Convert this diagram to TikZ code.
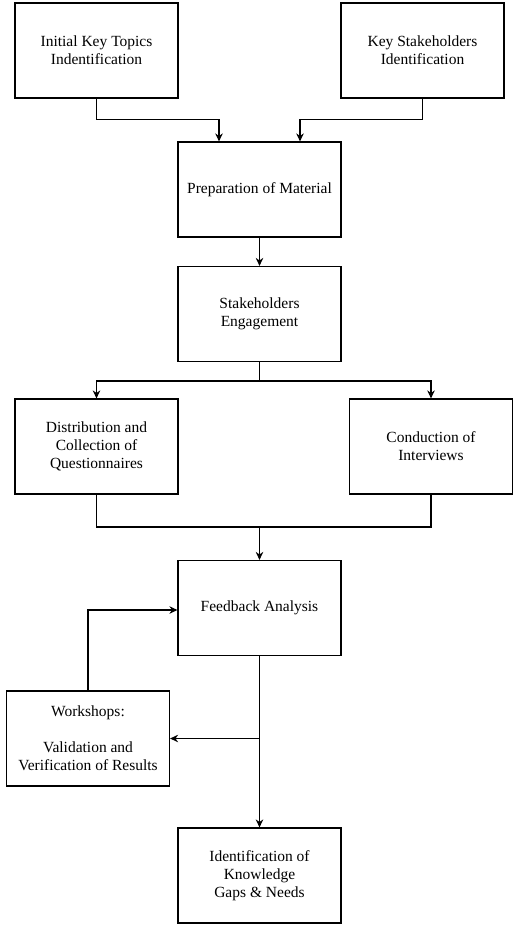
\documentclass[tikz,border=0pt]{standalone}
\usepackage{fontspec}
\setmainfont{Liberation Serif}
\usepackage{tikz}
\usetikzlibrary{arrows.meta}

\begin{document}
\begin{tikzpicture}[x=1pt,y=1pt,
        box/.style={draw,line width=1.2pt,minimum width=163pt,minimum height=95pt,align=center,
                font=\fontsize{15.5}{18}\selectfont},
        arr/.style={line width=1.2pt,-{Stealth[length=8pt,width=7.5pt]}}]
        \useasboundingbox (0,0) rectangle (520,-930);
        \node[box] (Topics) at (96.5,-50.5) {Initial Key Topics\\Indentification};
        \node[box] (Stakeholders) at (422.5,-50.5) {Key Stakeholders\\Identification};
        \node[box] (Material) at (259.5,-189.5) {Preparation of Material};
        \node[box] (Engagement) at (259.5,-314) {Stakeholders\\Engagement};
        \node[box] (Questionnaires) at (96.5,-446.5) {Distribution and\\Collection of\\Questionnaires};
        \node[box] (Interviews) at (431,-446.5) {Conduction of\\Interviews};
        \node[box] (Feedback) at (259.5,-608) {Feedback Analysis};
        \node[box] (Workshops) at (88,-738.5) {Workshops:\\[18pt]Validation and\\Verification of Results};
        \node[box] (Gaps) at (259.5,-875.5) {Identification of\\Knowledge\\Gaps \& Needs};

        \coordinate (split) at (259.5,-381);
        \coordinate (merge) at (259.5,-527);
        \coordinate (back) at (259.5,-738.5);

        \draw[arr] (Topics.south) -- ++(0,-21) -| ([xshift=-40.5pt]Material.north);
        \draw[arr] (Stakeholders.south) -- ++(0,-21) -| ([xshift=40.5pt]Material.north);
        \draw[arr] (Material) -- (Engagement);
        \draw[line width=1.2pt] (Engagement.south) -- (split);
        \draw[arr] (split) -| (Questionnaires.north);
        \draw[arr] (split) -| (Interviews.north);
        \draw[line width=1.2pt] (Questionnaires.south) |- (merge) -| (Interviews.south);
        \draw[arr] (merge) -- (Feedback.north);
        \draw[arr] (Feedback.south) -- (Gaps.north);
        \draw[arr] (back) -- (Workshops.east);
        \draw[arr] (Workshops.north) |- ([yshift=-2pt]Feedback.west);
    \end{tikzpicture}
\end{document}
